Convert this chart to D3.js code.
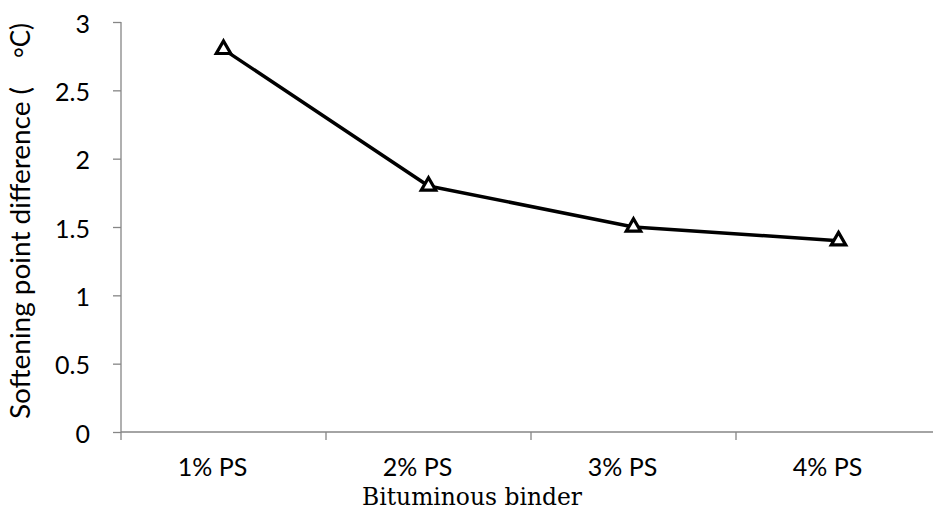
<!DOCTYPE html>
<html>
<head>
<meta charset="utf-8">
<script src="https://cdn.jsdelivr.net/npm/d3@7"></script>
<style>
  body{margin:0;background:#fff;}
  svg{display:block;}
  .tick text{font-family:Lato,"Open Sans",sans-serif;font-size:25px;fill:#000;}
</style>
</head>
<body>
<svg id="chart" width="933" height="512"></svg>
<script>
const categories=["1% PS","2% PS","3% PS","4% PS"];
const values=[2.8,1.8,1.5,1.4];
const yTicks=[0,0.5,1,1.5,2,2.5,3];

const svg=d3.select("#chart");
const plotLeft=121,plotRight=941,plotTop=22,plotBottom=432;
const axisColor="#868686";

let x=d3.scaleBand().domain(categories).range([plotLeft,plotRight]);
let y=d3.scaleLinear().domain([0,3]).range([plotBottom,plotTop]);

// y axis
let yAxis=svg.append("g")
  .attr("transform",`translate(${plotLeft},0)`)
  .call(d3.axisLeft(y).tickValues(yTicks).tickSize(8).tickPadding(23).tickFormat(d3.format("")));
yAxis.selectAll("line,path").attr("stroke",axisColor).attr("stroke-width",1.3);
yAxis.select(".domain").attr("d",`M0,${plotTop}V${plotBottom}`);
yAxis.selectAll(".tick text").attr("dy","0.4em");

// x axis
let xAxis=svg.append("g")
  .attr("transform",`translate(0,${plotBottom})`)
  .call(d3.axisBottom(x).tickSize(0).tickPadding(26));
xAxis.select(".domain").attr("d",`M${plotLeft},0H933`).attr("stroke",axisColor).attr("stroke-width",1.3);
xAxis.selectAll(".tick line").remove();
xAxis.selectAll(".tick text").attr("x",-11);
// tick marks between categories
let boundaries=categories.map((c)=>x(c));
svg.append("g")
  .selectAll("line")
  .data(boundaries)
  .enter()
    .append("line")
    .attr("x1",(d)=>d).attr("x2",(d)=>d)
    .attr("y1",plotBottom).attr("y2",plotBottom+8)
    .attr("stroke",axisColor).attr("stroke-width",1.3);

// axis titles
svg.append("text")
  .attr("x",472)
  .attr("y",505)
  .attr("text-anchor","middle")
  .attr("textLength",220)
  .attr("lengthAdjust","spacingAndGlyphs")
  .style("font-family","DejaVu Serif, serif")
  .style("font-size","24px")
  .text("Bituminous binder");

let yTitle=svg.append("g")
  .attr("transform","translate(30,0) rotate(-90)")
  .style("font-family","Lato,'Open Sans',sans-serif")
  .style("font-size","26px");
yTitle.append("text")
  .attr("x",-419)
  .attr("y",0)
  .attr("textLength",332)
  .attr("lengthAdjust","spacingAndGlyphs")
  .text("Softening point difference (");
let unit=yTitle.append("text")
  .attr("x",-23)
  .attr("y",0)
  .attr("text-anchor","end");
unit.append("tspan").attr("dy",4).text("\u00B0");
unit.append("tspan").attr("dy",-4).text("C)");

// line
let cx=(d,i)=>x(categories[i])+x.bandwidth()/2;
let line=d3.line().x((d,i)=>cx(d,i)).y((d)=>y(d));
svg.append("path")
  .datum(values)
  .attr("d",line)
  .attr("fill","none")
  .attr("stroke","#000")
  .attr("stroke-width",3.5)
  .attr("stroke-linejoin","round");

// triangle markers
let tri=d3.symbol().type(d3.symbolTriangle).size(90);
svg.append("g")
  .selectAll("path")
  .data(values)
  .enter()
    .append("path")
    .attr("d",tri)
    .attr("transform",(d,i)=>`translate(${cx(d,i)},${y(d)})`)
    .attr("fill","#fff")
    .attr("stroke","#000")
    .attr("stroke-width",3.2);
</script>
</body>
</html>
